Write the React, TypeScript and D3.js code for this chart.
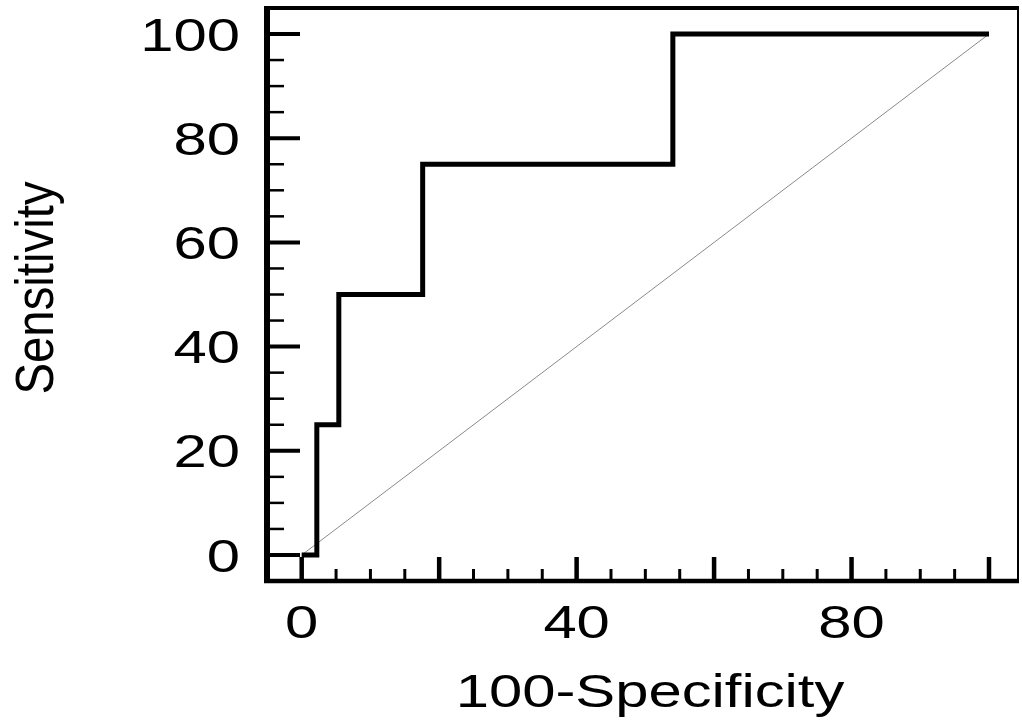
import * as d3 from "d3";

// ROC curve: 100-Specificity (x) vs Sensitivity (y)
const fpr = [0, 2.2, 5.4, 17.6, 54, 100];
const tpr = [0, 25, 50, 75, 100, 100];
const xTickLabels = [0, 40, 80];
const yTickLabels = [0, 20, 40, 60, 80, 100];
const xTitle = "100-Specificity";
const yTitle = "Sensitivity";

const W = 1022;
const H = 724;
const FONT = "'Liberation Sans', Arial, sans-serif";
const STRETCH = 1.3; // the picture's text is wide

export default function App() {
  const x = d3.scaleLinear().domain([0, 100]).range([301.7, 989]);
  const y = d3.scaleLinear().domain([0, 100]).range([555, 34]);

  const pts = fpr.map((v, i) => [v, tpr[i]] as [number, number]);
  const roc = d3
    .line<[number, number]>()
    .x((d) => x(d[0]))
    .y((d) => y(d[1]))
    .curve(d3.curveStepAfter)(pts);

  const minor = d3.range(0, 101, 5).filter((v) => v % 20 !== 0);
  const major = d3.range(0, 101, 20);

  const left = 267, top = 8, right = 1018, bottom = 581;

  return (
    <svg
      width={W}
      height={H}
      style={{ position: "absolute", left: 0, top: 0, background: "#fff" }}
    >
      {/* diagonal reference */}
      <line
        x1={x(0)} y1={y(0)} x2={x(100)} y2={y(100)}
        stroke="#8a8a8a" strokeWidth={1}
      />
      {/* x ticks */}
      {minor.map((v) => (
        <line key={"xm" + v} x1={x(v)} x2={x(v)} y1={bottom} y2={569} stroke="#000" strokeWidth={3} />
      ))}
      {major.map((v) => (
        <line key={"xM" + v} x1={x(v)} x2={x(v)} y1={bottom} y2={557} stroke="#000" strokeWidth={4.5} />
      ))}
      {/* y ticks */}
      {minor.map((v) => (
        <line key={"ym" + v} y1={y(v)} y2={y(v)} x1={left} x2={284} stroke="#000" strokeWidth={2.5} />
      ))}
      {major.map((v) => (
        <line key={"yM" + v} y1={y(v)} y2={y(v)} x1={left} x2={300} stroke="#000" strokeWidth={4} />
      ))}
      {/* ROC step line */}
      <path d={roc ?? ""} fill="none" stroke="#000" strokeWidth={5} strokeLinejoin="miter" />
      {/* frame */}
      <line x1={left} x2={left} y1={top - 2} y2={bottom + 2} stroke="#000" strokeWidth={6} />
      <line x1={left - 3} x2={right + 1} y1={top} y2={top} stroke="#000" strokeWidth={4} />
      <line x1={right} x2={right} y1={top} y2={bottom} stroke="#000" strokeWidth={2} />
      <line x1={left - 3} x2={right + 1} y1={bottom} y2={bottom} stroke="#000" strokeWidth={4.5} />
      {/* y tick labels */}
      {yTickLabels.map((v) => (
        <text
          key={"yl" + v}
          transform={`translate(240,${y(v) + 16.5}) scale(${STRETCH},1)`}
          textAnchor="end"
          fontFamily={FONT}
          fontSize={46}
          fill="#000"
        >
          {v}
        </text>
      ))}
      {/* x tick labels */}
      {xTickLabels.map((v) => (
        <text
          key={"xl" + v}
          transform={`translate(${x(v)},638) scale(${STRETCH},1)`}
          textAnchor="middle"
          fontFamily={FONT}
          fontSize={46}
          fill="#000"
        >
          {v}
        </text>
      ))}
      {/* axis titles */}
      <text
        transform={`translate(650,707) scale(${STRETCH},1)`}
        textAnchor="middle"
        fontFamily={FONT}
        fontSize={46}
        fill="#000"
      >
        {xTitle}
      </text>
      <text
        transform={`translate(53,288) rotate(-90) scale(1.03,1.15)`}
        textAnchor="middle"
        fontFamily={FONT}
        fontSize={46}
        fill="#000"
      >
        {yTitle}
      </text>
    </svg>
  );
}
